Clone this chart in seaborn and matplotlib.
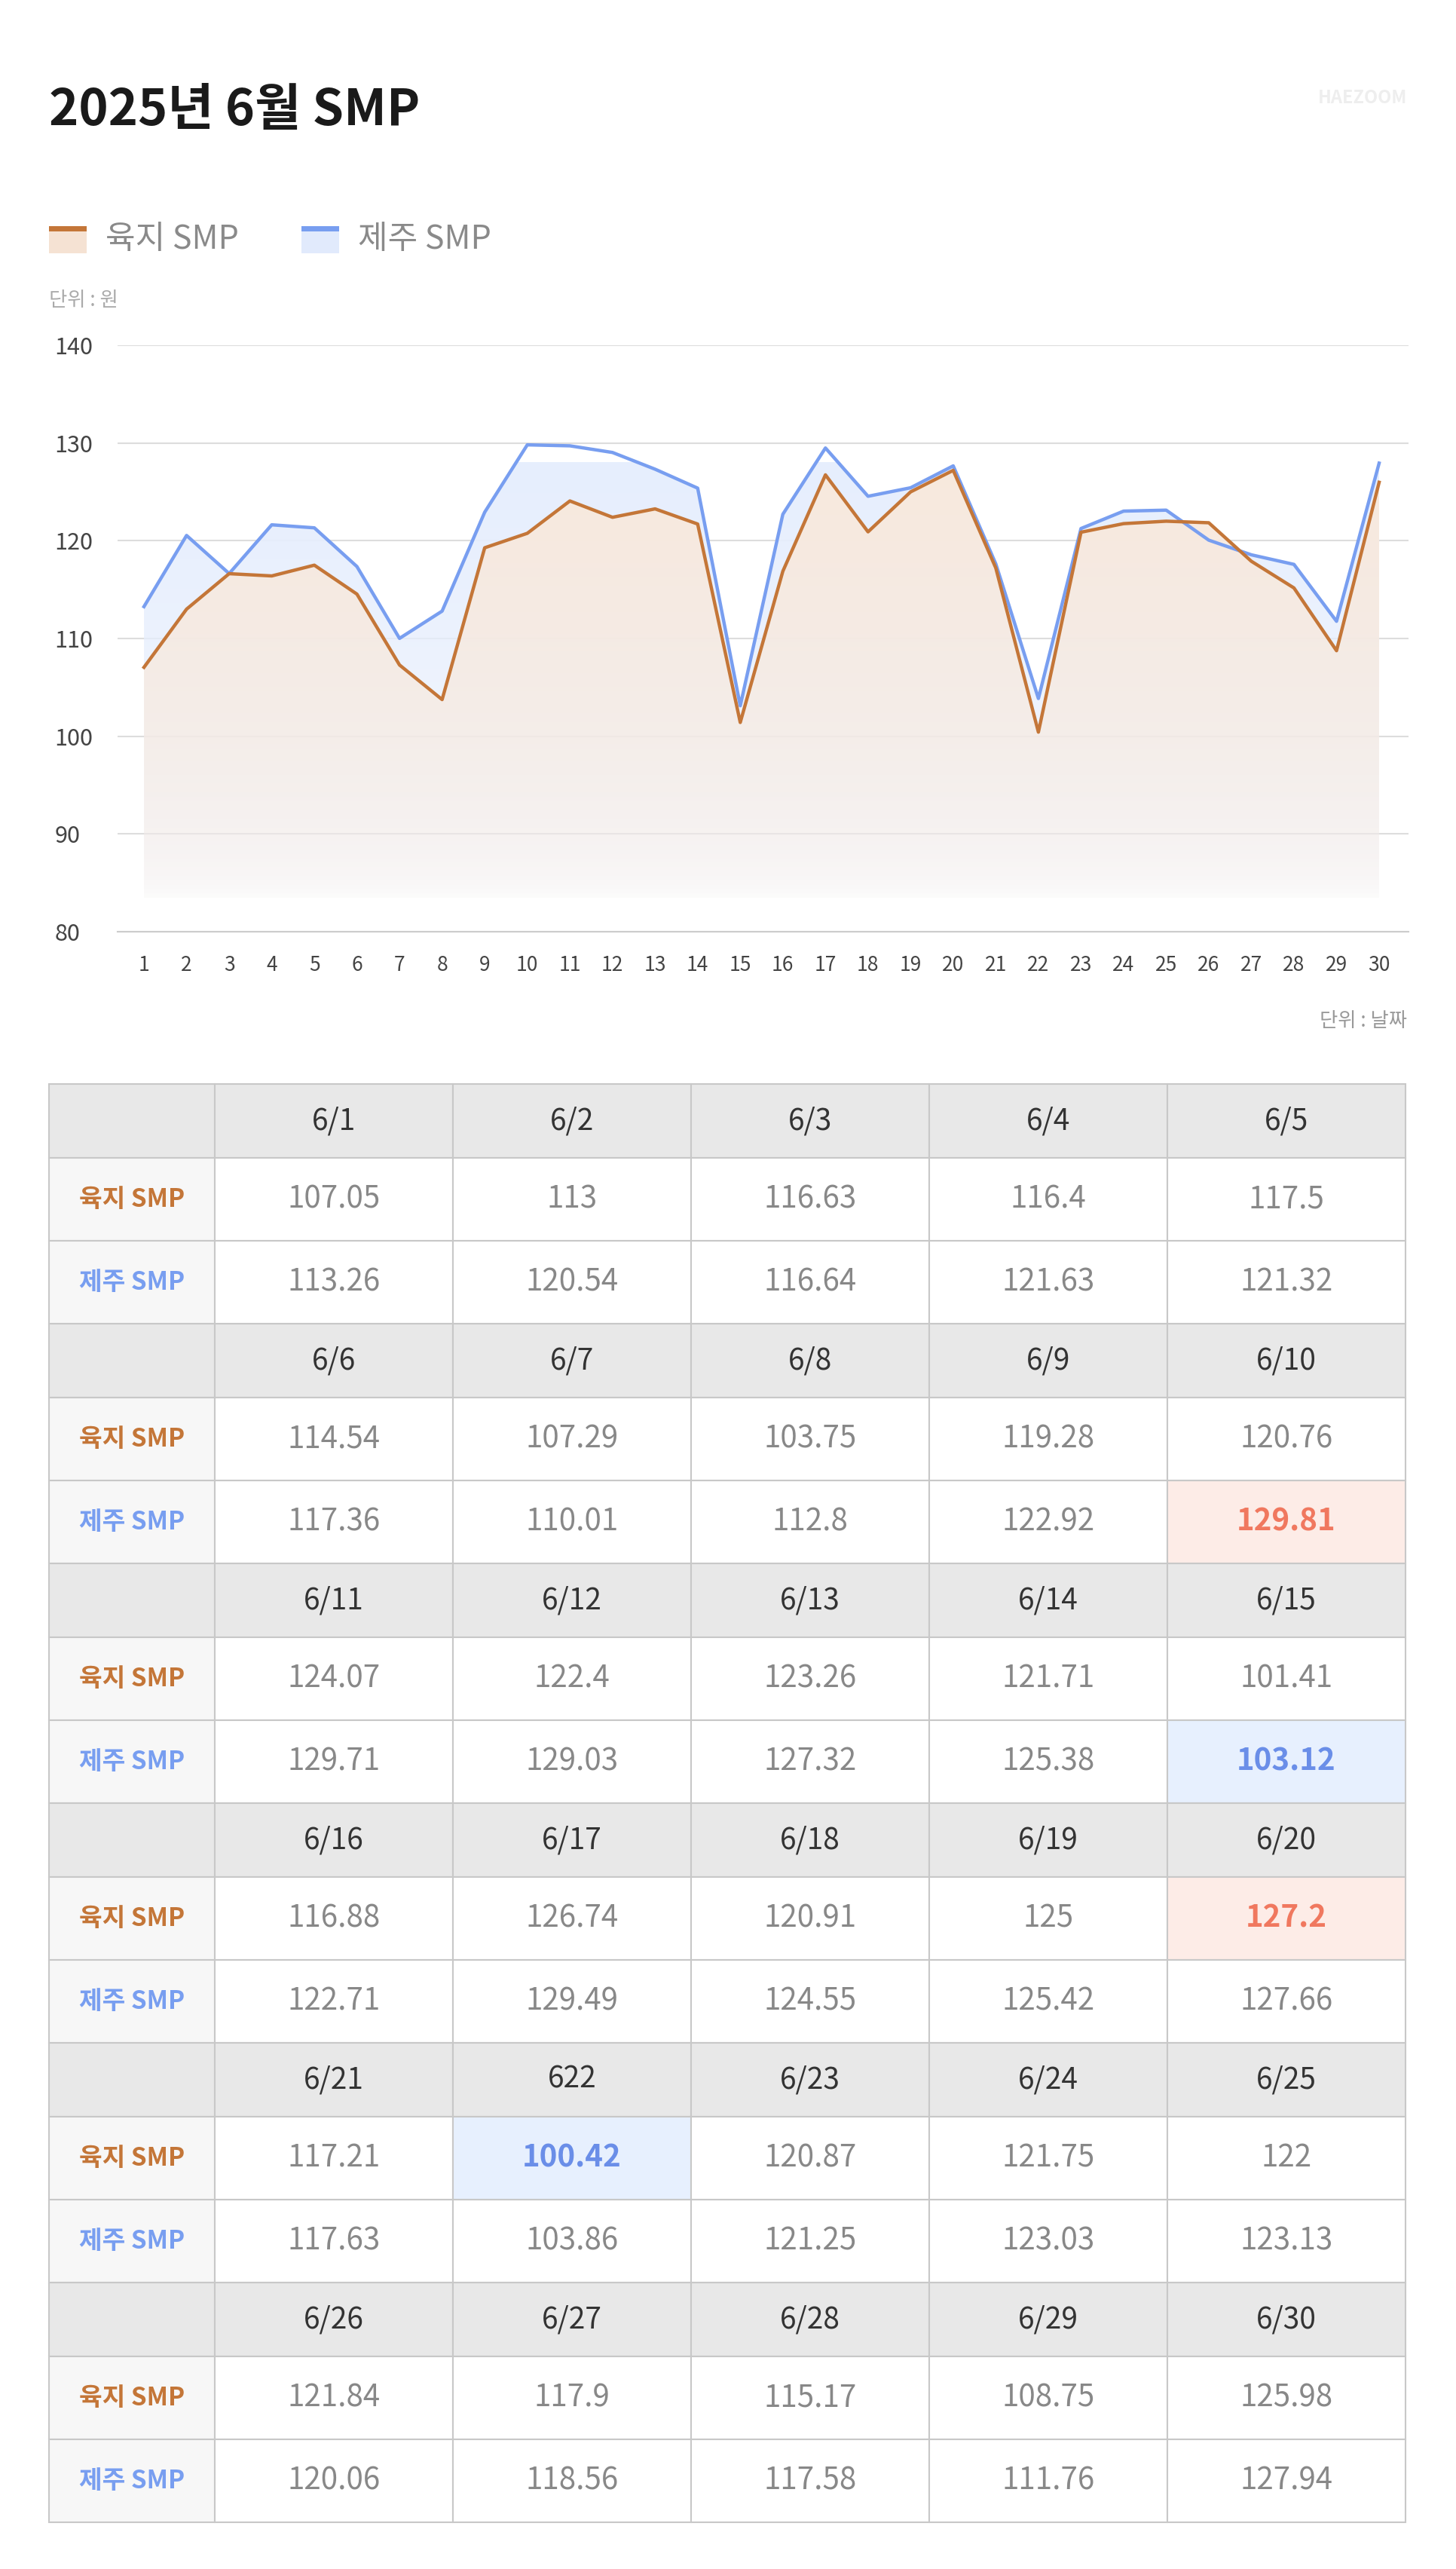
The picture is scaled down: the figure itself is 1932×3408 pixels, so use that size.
import numpy as np
import pandas as pd
import matplotlib
matplotlib.use("Agg")
import matplotlib.pyplot as plt
from matplotlib.patches import Rectangle, Polygon
import seaborn as sns

plt.rcParams["font.family"] = ["Noto Sans CJK KR", "Noto Sans CJK JP", "Noto Sans CJK SC", "DejaVu Sans"]
plt.rcParams["font.sans-serif"] = ["Noto Sans CJK KR", "Noto Sans CJK JP", "Noto Sans CJK SC", "DejaVu Sans"]

days = list(range(1, 31))
date_labels = [f"6/{d}" for d in days]
date_labels[21] = "622"
land_smp = [107.05, 113, 116.63, 116.4, 117.5, 114.54, 107.29, 103.75, 119.28, 120.76,
            124.07, 122.4, 123.26, 121.71, 101.41, 116.88, 126.74, 120.91, 125, 127.2,
            117.21, 100.42, 120.87, 121.75, 122, 121.84, 117.9, 115.17, 108.75, 125.98]
jeju_smp = [113.26, 120.54, 116.64, 121.63, 121.32, 117.36, 110.01, 112.8, 122.92, 129.81,
            129.71, 129.03, 127.32, 125.38, 103.12, 122.71, 129.49, 124.55, 125.42, 127.66,
            117.63, 103.86, 121.25, 123.03, 123.13, 120.06, 118.56, 117.58, 111.76, 127.94]
land_text = ["107.05", "113", "116.63", "116.4", "117.5", "114.54", "107.29", "103.75", "119.28", "120.76",
             "124.07", "122.4", "123.26", "121.71", "101.41", "116.88", "126.74", "120.91", "125", "127.2",
             "117.21", "100.42", "120.87", "121.75", "122", "121.84", "117.9", "115.17", "108.75", "125.98"]
jeju_text = ["113.26", "120.54", "116.64", "121.63", "121.32", "117.36", "110.01", "112.8", "122.92", "129.81",
             "129.71", "129.03", "127.32", "125.38", "103.12", "122.71", "129.49", "124.55", "125.42", "127.66",
             "117.63", "103.86", "121.25", "123.03", "123.13", "120.06", "118.56", "117.58", "111.76", "127.94"]
series_names = ["육지 SMP", "제주 SMP"]
y_ticks = [80, 90, 100, 110, 120, 130, 140]

ORANGE = "#c47638"
BLUE = "#789ef0"
W, H = 1932, 3408
fig = plt.figure(figsize=(W / 100, H / 100), dpi=100)

bg = fig.add_axes([0, 0, 1, 1])
bg.set_xlim(0, W); bg.set_ylim(H, 0); bg.axis("off")

bg.text(65, 146, "2025년 6월 SMP", fontsize=48, fontweight="bold", color="#1a1a1a", va="center")
bg.text(1867, 130, "HAEZOOM", fontsize=17, fontweight="bold", color="#eeeeee", va="center", ha="right")

for i, (name, lc, fc) in enumerate([(series_names[0], ORANGE, "#f5e2d3"), (series_names[1], BLUE, "#e1eafc")]):
    x0 = 65 + i * 335
    bg.add_patch(Rectangle((x0, 300), 50, 36, facecolor=fc, edgecolor="none"))
    bg.add_patch(Rectangle((x0, 300), 50, 7, facecolor=lc, edgecolor="none"))
    bg.text(x0 + 75, 318, name, fontsize=31, color="#8a8a8a", va="center")
bg.text(65, 398, "단위 : 원", fontsize=19, color="#aaaaaa", va="center")
bg.text(1867, 1354, "단위 : 날짜", fontsize=19, color="#999999", va="center", ha="right")

L, R, T, B = 156, 1869, 458, 1236
ax = fig.add_axes([L / W, 1 - B / H, (R - L) / W, (B - T) / H])
df = pd.DataFrame({"day": days * 2, "value": land_smp + jeju_smp,
                   "series": [series_names[0]] * 30 + [series_names[1]] * 30})
ax.set_xlim(0.38, 30.69)
ax.set_ylim(80, 140)

def grad_fill(vals, rgb, z):
    poly = Polygon([(days[0], 83)] + list(zip(days, vals)) + [(days[-1], 83)], closed=True,
                   facecolor="none", edgecolor="none")
    ax.add_patch(poly)
    img = np.zeros((100, 2, 4))
    img[..., :3] = rgb
    img[..., 3] = np.linspace(0.0, 1.0, 100)[:, None] ** 0.5
    im = ax.imshow(img, extent=[days[0], days[-1], 83, 128], origin="lower", aspect="auto", zorder=z)
    im.set_clip_path(poly)

grad_fill(jeju_smp, matplotlib.colors.to_rgb("#e6eefd"), 1)
grad_fill(land_smp, matplotlib.colors.to_rgb("#f8e9dd"), 2)
sns.lineplot(data=df, x="day", y="value", hue="series", palette=[ORANGE, BLUE],
             hue_order=series_names, linewidth=3.2, ax=ax, legend=False, zorder=3)
ax.lines[1].set_zorder(3); ax.lines[0].set_zorder(4)
ax.set_yticks(y_ticks)
ax.set_xticks(days)
ax.grid(axis="y", color="#dddddd", linewidth=1.5)
ax.set_axisbelow(True)
for s in ["top", "right", "left"]:
    ax.spines[s].set_visible(False)
ax.spines["bottom"].set_color("#cccccc"); ax.spines["bottom"].set_linewidth(1.5)
ax.tick_params(axis="y", length=0, labelsize=22, labelcolor="#444444", pad=60)
ax.tick_params(axis="x", length=0, labelsize=19, labelcolor="#444444", pad=22)
ax.set_xlabel(""); ax.set_ylabel("")
for lab in ax.get_yticklabels():
    lab.set_horizontalalignment("left")

tx0, ty0 = 65, 1438
c0w, cw = 220, 316
hh, rh = 98, 110
hl = {(9, 1): "red", (14, 1): "blue", (19, 0): "red", (21, 0): "blue"}
y = ty0
for s in range(6):
    for c in range(-1, 5):
        x = tx0 if c < 0 else tx0 + c0w + c * cw
        w = c0w if c < 0 else cw
        bg.add_patch(Rectangle((x, y), w, hh, facecolor="#e8e8e8", edgecolor="#c8c8c8", lw=1.5))
        if c >= 0:
            bg.text(x + cw / 2, y + hh / 2, date_labels[s * 5 + c], fontsize=28, color="#333333",
                    ha="center", va="center")
    y += hh
    for r, (name, col, texts) in enumerate([(series_names[0], ORANGE, land_text), (series_names[1], BLUE, jeju_text)]):
        bg.add_patch(Rectangle((tx0, y), c0w, rh, facecolor="#f7f7f7", edgecolor="#c8c8c8", lw=1.5))
        bg.text(tx0 + c0w / 2, y + rh / 2, name, fontsize=24, color=col, ha="center", va="center", fontweight="bold")
        for c in range(5):
            d = s * 5 + c
            x = tx0 + c0w + c * cw
            kind = hl.get((d, r))
            fc, tc, fw = "white", "#888888", "normal"
            if kind == "red":
                fc, tc, fw = "#fdece7", "#f0785f", "bold"
            elif kind == "blue":
                fc, tc, fw = "#e7f0fe", "#6a8ee8", "bold"
            bg.add_patch(Rectangle((x, y), cw, rh, facecolor=fc, edgecolor="#c8c8c8", lw=1.5))
            bg.text(x + cw / 2, y + rh / 2, texts[d], fontsize=29, color=tc, ha="center", va="center", fontweight=fw)
        y += rh

fig.savefig("out.png", dpi=100, facecolor="white")
